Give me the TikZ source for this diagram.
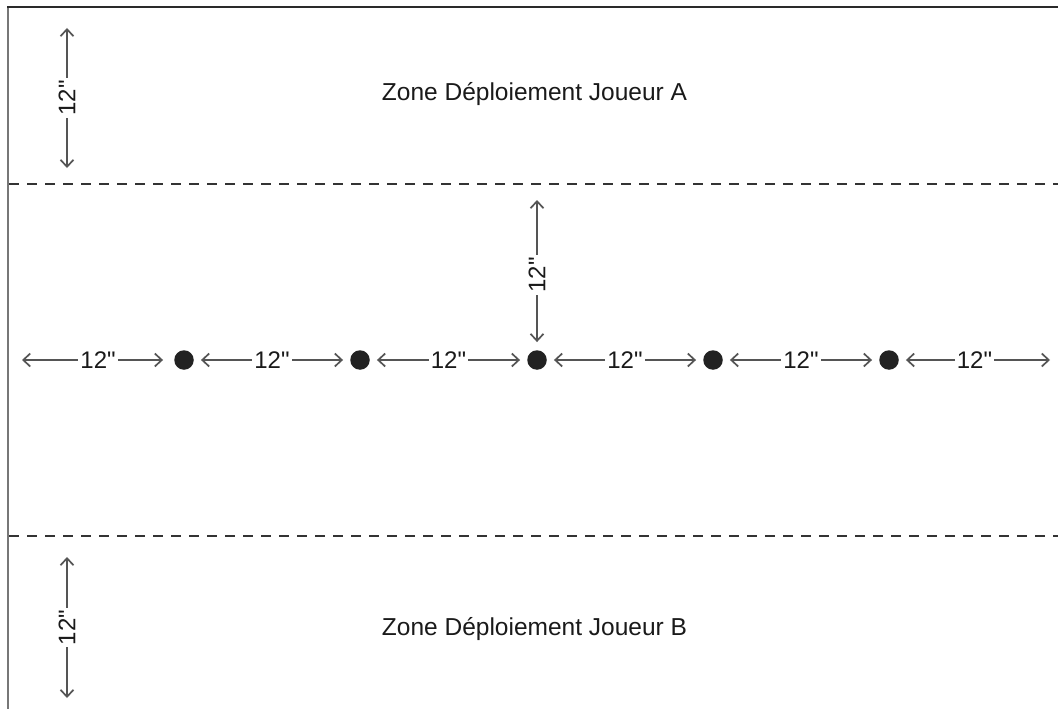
\documentclass[tikz,border=0pt]{standalone}
\usepackage{fontspec}
\setmainfont{Liberation Sans}[Ligatures=TeXOff]
\usetikzlibrary{arrows.meta}
\definecolor{textdark}{HTML}{1A1A1A}
\definecolor{arrowgray}{HTML}{555555}
\definecolor{dotdark}{HTML}{222222}
\definecolor{dashdark}{HTML}{333333}
\definecolor{bordergray}{HTML}{777777}
\definecolor{topdark}{HTML}{2A2A2A}
\begin{document}
\begin{tikzpicture}[x=1pt,y=-1pt,
  dim/.style={draw=arrowgray, line width=1.7pt,
    {Straight Barb[length=7pt,width=13pt]}-{Straight Barb[length=7pt,width=13pt]}},
  lbl/.style={fill=white, inner sep=2pt, font=\fontsize{24}{28}\selectfont, text=textdark},
  zone/.style={font=\fontsize{24.5}{29}\selectfont, text=textdark, anchor=base},
  dot/.style={circle, fill=dotdark, minimum size=19.5pt, inner sep=0pt},
  dashline/.style={draw=dashdark, line width=1.6pt, dash pattern=on 10pt off 8pt}]
\useasboundingbox (0,0) rectangle (1058,709);
\fill[white] (0,0) rectangle (1058,709);
% frame
\draw[line width=2.5pt, draw=bordergray] (8,709) -- (8,7);
\draw[line width=2pt, draw=topdark] (7,7.5) -- (1058,7.5);
% dashed zone limits
\draw[dashline] (9,184) -- (1058,184);
\draw[dashline] (9,536) -- (1058,536);
% zone texts
\node[zone] (za) at (534.5,100) {Zone Déploiement Joueur A};
\node[zone] (zb) at (534.5,635) {Zone Déploiement Joueur B};
% objective dots
\node[dot] (d1) at (184,360) {};
\node[dot] (d2) at (360,360) {};
\node[dot] (d3) at (537,360) {};
\node[dot] (d4) at (713,360) {};
\node[dot] (d5) at (889,360) {};
% free ends
\coordinate (hl) at (22,360);
\coordinate (hr) at (1050,360);
\coordinate (vt) at (537,200);
\coordinate (at) at (67,28);
\coordinate (ab) at (67,168);
\coordinate (bt) at (67,557);
\coordinate (bb) at (67,698);
% horizontal dimensions
\draw[dim, shorten >=11pt] (hl) -- node[lbl] {12"} (d1);
\draw[dim, shorten <=7pt, shorten >=7pt] (d1) -- node[lbl] {12"} (d2);
\draw[dim, shorten <=7pt, shorten >=7pt] (d2) -- node[lbl] {12"} (d3);
\draw[dim, shorten <=7pt, shorten >=7pt] (d3) -- node[lbl] {12"} (d4);
\draw[dim, shorten <=7pt, shorten >=7pt] (d4) -- node[lbl] {12"} (d5);
\draw[dim, shorten <=7pt] (d5) -- node[lbl] {12"} (hr);
% vertical dimensions
\draw[dim, shorten >=8pt] (vt) -- node[lbl, rotate=90] {12"} (d3);
\draw[dim] (at) -- node[lbl, rotate=90] {12"} (ab);
\draw[dim] (bt) -- node[lbl, rotate=90] {12"} (bb);
\end{tikzpicture}
\end{document}
